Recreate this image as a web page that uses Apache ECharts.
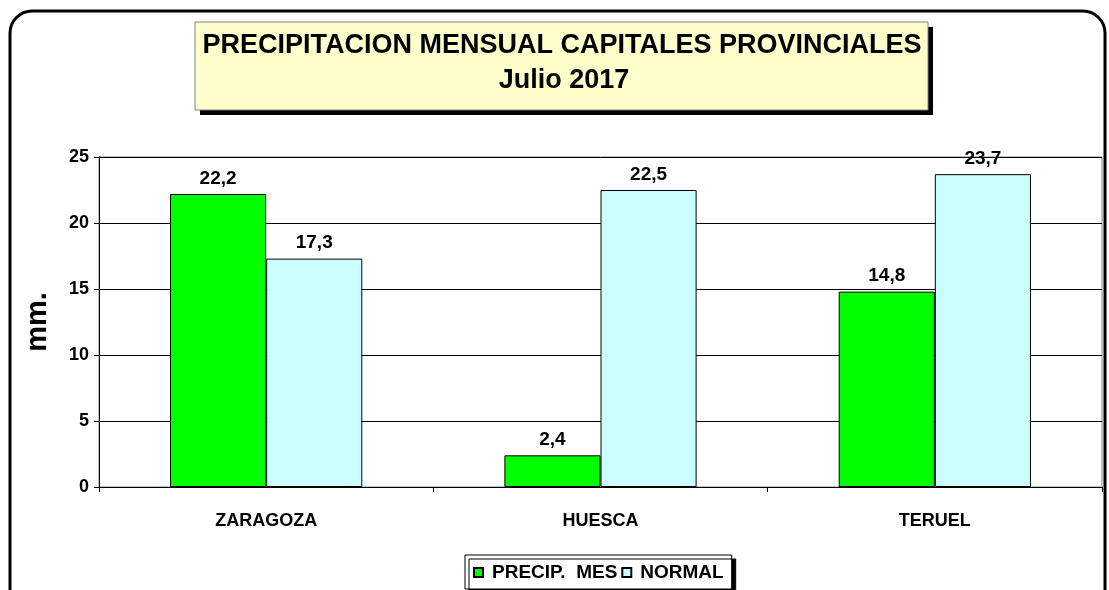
<!DOCTYPE html>
<html>
<head>
<meta charset="utf-8">
<script src="https://cdn.jsdelivr.net/npm/echarts@6/dist/echarts.min.js"></script>
<style>
  html, body { margin: 0; padding: 0; background: #fff; }
  #chart { width: 1109px; height: 590px; }
</style>
</head>
<body>
<div id="chart"></div>
<script>
const cities = ['ZARAGOZA', 'HUESCA', 'TERUEL'];
const precipMes = [22.2, 2.4, 14.8];
const normal = [17.3, 22.5, 23.7];
const seriesNames = ['PRECIP.  MES', 'NORMAL'];
const titleLines = ['PRECIPITACION MENSUAL CAPITALES PROVINCIALES', 'Julio 2017'];

const font = 'Liberation Sans, Arial, sans-serif';
const comma = (p) => String(p.value).replace('.', ',');

const valueLabel = {
  show: true,
  position: 'top',
  distance: 6,
  color: '#000',
  fontFamily: font,
  fontWeight: 'bold',
  fontSize: 19,
  formatter: comma,
};

const chart = echarts.init(document.getElementById('chart'));
chart.setOption({
  animation: false,
  textStyle: { fontFamily: font },
  grid: { left: 99, right: 7, top: 157, bottom: 103, show: true, borderColor: '#808080', borderWidth: 1, backgroundColor: '#fff' },
  xAxis: {
    type: 'category',
    data: cities,
    axisLine: { lineStyle: { color: '#000', width: 1 } },
    axisTick: { show: true, length: 5, lineStyle: { color: '#000' } },
    axisLabel: { color: '#000', fontWeight: 'bold', fontSize: 18, margin: 25 },
  },
  yAxis: {
    type: 'value',
    min: 0,
    max: 25,
    interval: 5,
    name: 'mm.',
    nameLocation: 'middle',
    nameGap: 47,
    nameTextStyle: { color: '#000', fontWeight: 'bold', fontSize: 29 },
    axisLine: { show: true, lineStyle: { color: '#000', width: 1 } },
    axisTick: { show: true, length: 5, lineStyle: { color: '#000' } },
    axisLabel: { color: '#000', fontWeight: 'bold', fontSize: 18, margin: 10 },
    splitLine: { lineStyle: { color: '#000', width: 1 } },
  },
  legend: {
    data: seriesNames,
    bottom: 1,
    left: 465,
    icon: 'rect',
    itemWidth: 9,
    itemHeight: 9,
    itemGap: 4,
    padding: [8, 8, 7, 8],
    backgroundColor: '#fff',
    borderColor: '#000',
    borderWidth: 1,
    shadowColor: '#000',
    shadowBlur: 0,
    shadowOffsetX: 4,
    shadowOffsetY: 4,
    textStyle: { color: '#000', fontWeight: 'bold', fontSize: 19, padding: [0, 0, 0, 4] },
    selectedMode: false,
  },
  graphic: [
    {
      type: 'rect',
      shape: { x: 10, y: 11, width: 1095, height: 640, r: 22 },
      style: { fill: 'none', stroke: '#000', lineWidth: 3 },
      silent: true,
      z: 100,
    },
    {
      type: 'rect',
      shape: { x: 200, y: 27, width: 733, height: 88 },
      style: { fill: '#000' },
      silent: true,
      z: 100,
    },
    {
      type: 'rect',
      shape: { x: 195, y: 22, width: 733, height: 88 },
      style: { fill: '#FFFFCC', stroke: '#808080', lineWidth: 1 },
      silent: true,
      z: 101,
    },
    {
      type: 'text',
      x: 562, y: 46,
      style: { text: titleLines[0], fill: '#000', font: 'bold 27px ' + font, align: 'center', verticalAlign: 'middle' },
      silent: true,
      z: 102,
    },
    {
      type: 'text',
      x: 564, y: 81,
      style: { text: titleLines[1], fill: '#000', font: 'bold 27px ' + font, align: 'center', verticalAlign: 'middle' },
      silent: true,
      z: 102,
    },
  ],
  series: [
    {
      name: seriesNames[0],
      type: 'bar',
      data: precipMes,
      barGap: '0%',
      barCategoryGap: '42.5%',
      itemStyle: { color: '#00FF00', borderColor: '#000', borderWidth: 1 },
      label: valueLabel,
    },
    {
      name: seriesNames[1],
      type: 'bar',
      data: normal,
      itemStyle: { color: '#CCFFFF', borderColor: '#000', borderWidth: 1 },
      label: valueLabel,
    },
  ],
});
</script>
</body>
</html>
